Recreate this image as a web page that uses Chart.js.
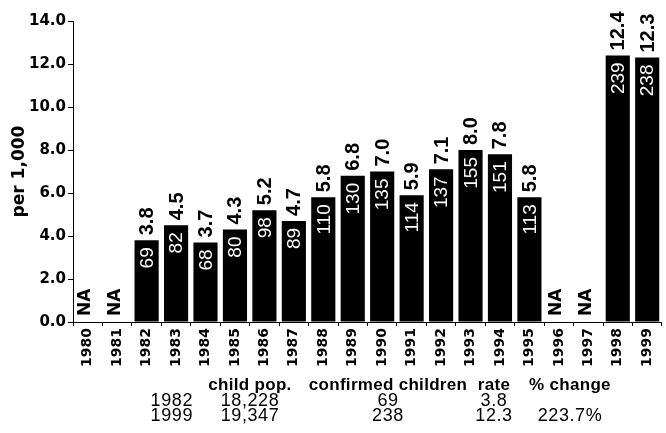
<!DOCTYPE html>
<html>
<head>
<meta charset="utf-8">
<script src="https://cdn.jsdelivr.net/npm/chart.js@4.4.0/dist/chart.umd.min.js"></script>
<style>
  body { margin: 0; background: #fff; }
  #wrap { position: relative; width: 666px; height: 433px; }
  #chart { position: absolute; left: 0; top: 0; }
  .cell { position: absolute; font-family: "Liberation Sans", Arial, sans-serif; font-size: 18px; line-height: 1; color: #000; white-space: nowrap; letter-spacing: 0.6px; }
  .head { font-weight: bold; font-size: 17px; letter-spacing: 0.3px; }
</style>
</head>
<body>
<div id="wrap">
  <canvas id="chart" width="666" height="433"></canvas>
  <div id="table"></div>
</div>
<script>
let years = ["1980", "1981", "1982", "1983", "1984", "1985", "1986", "1987", "1988", "1989",
             "1990", "1991", "1992", "1993", "1994", "1995", "1996", "1997", "1998", "1999"];
let rates = [null, null, 3.8, 4.5, 3.7, 4.3, 5.2, 4.7, 5.8, 6.8,
             7.0, 5.9, 7.1, 8.0, 7.8, 5.8, null, null, 12.4, 12.3];
let counts = [null, null, 69, 82, 68, 80, 98, 89, 110, 130,
              135, 114, 137, 155, 151, 113, null, null, 239, 238];
let yTicks = [0, 2, 4, 6, 8, 10, 12, 14];

// little table under the chart
let tableHeaders = ["child pop.", "confirmed children", "rate", "% change"];
let tableYears = ["1982", "1999"];
let tableChildPop = ["18,228", "19,347"];
let tableConfirmed = ["69", "238"];
let tableRate = ["3.8", "12.3"];
let tableChange = ["", "223.7%"];

let numFont = "'Liberation Sans', Arial, sans-serif";
let heavyFont = "'DejaVu Sans', sans-serif";

let barLabels = {
  id: "barLabels",
  afterDatasetsDraw(chart) {
    let ctx = chart.ctx;
    let meta = chart.getDatasetMeta(0);
    let xScale = chart.scales.x;
    let yScale = chart.scales.y;
    for (let i = 0; i < years.length; i++) {
      let x = xScale.getPixelForValue(i);
      ctx.save();
      ctx.textBaseline = "middle";
      if (rates[i] === null) {
        ctx.translate(x - 2, yScale.getPixelForValue(0) - 6);
        ctx.rotate(-Math.PI / 2);
        ctx.font = "bold 17px " + heavyFont;
        ctx.fillStyle = "#000";
        ctx.textAlign = "left";
        ctx.fillText("NA", 0, 0);
      } else {
        let top = meta.data[i].y;
        ctx.translate(x, top);
        ctx.rotate(-Math.PI / 2);
        ctx.font = "bold 20px " + numFont;
        ctx.fillStyle = "#000";
        ctx.textAlign = "left";
        ctx.fillText(rates[i].toFixed(1), 5, 1);
        ctx.font = "19px " + numFont;
        ctx.fillStyle = "#fff";
        ctx.textAlign = "right";
        ctx.fillText(String(counts[i]), -7, 1);
      }
      ctx.restore();
    }
  }
};

new Chart(document.getElementById("chart"), {
  type: "bar",
  data: {
    labels: years,
    datasets: [{
      data: rates,
      backgroundColor: "#000",
      borderWidth: 0,
      barPercentage: 0.82,
      categoryPercentage: 1.0
    }]
  },
  options: {
    responsive: false,
    animation: false,
    layout: { padding: { top: 21, right: 0, left: 0, bottom: 0 } },
    plugins: { legend: { display: false }, tooltip: { enabled: false } },
    scales: {
      x: {
        grid: { drawOnChartArea: false, tickLength: 4, color: "#000" },
        border: { color: "#000", width: 1 },
        ticks: {
          minRotation: 90, maxRotation: 90, padding: 2, color: "#000",
          font: { family: heavyFont, weight: "bold", size: 14 }
        },
        afterFit: (s) => { s.height = 433 - 322; }
      },
      y: {
        min: 0, max: 14,
        afterBuildTicks: (s) => { s.ticks = yTicks.map((v) => ({ value: v })); },
        ticks: {
          padding: 2, color: "#000",
          callback: (v) => v.toFixed(1),
          font: { family: heavyFont, weight: "bold", size: 15 }
        },
        grid: { drawOnChartArea: false, tickLength: 5, color: "#000" },
        border: { color: "#000", width: 1 },
        title: {
          display: true, text: "per 1,000", color: "#000", padding: { top: 9, bottom: 0 },
          font: { family: heavyFont, weight: "bold", size: 17 }
        },
        afterFit: (s) => { s.width = 73; }
      }
    }
  },
  plugins: [barLabels]
});

function addCell(text, x, y, align, bold) {
  let d = document.createElement("div");
  d.className = bold ? "cell head" : "cell";
  d.textContent = text;
  d.style.top = y + "px";
  if (align === "right") {
    d.style.right = (666 - x) + "px";
  } else {
    d.style.left = x + "px";
    d.style.transform = "translateX(-50%)";
  }
  document.getElementById("table").appendChild(d);
}

let colCenters = [250, 388, 494, 570];
let rowTops = [391, 406];
tableHeaders.forEach((h, i) => addCell(h, colCenters[i], 376, "center", true));
tableYears.forEach((y, r) => {
  addCell(y, 193, rowTops[r], "right", false);
  addCell(tableChildPop[r], colCenters[0], rowTops[r], "center", false);
  addCell(tableConfirmed[r], colCenters[1], rowTops[r], "center", false);
  addCell(tableRate[r], colCenters[2], rowTops[r], "center", false);
  if (tableChange[r]) addCell(tableChange[r], colCenters[3], rowTops[r], "center", false);
});
</script>
</body>
</html>
